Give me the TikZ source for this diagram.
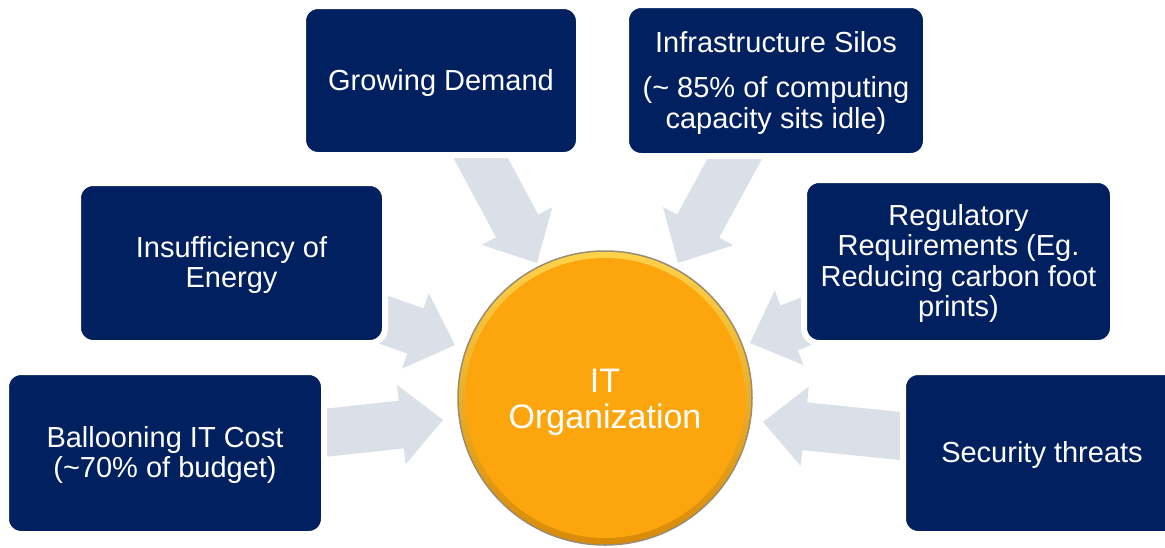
\documentclass[tikz,border=0pt]{standalone}
\usepackage{fontspec}
\setmainfont{Liberation Sans}
\usetikzlibrary{calc}
\definecolor{navy}{HTML}{002060}
\definecolor{arrowgray}{HTML}{DBE0E8}
\definecolor{orng}{HTML}{FDA50D}
\definecolor{rimtop}{HTML}{FFD24A}
\definecolor{rimbot}{HTML}{D88A06}
\definecolor{rimgray}{HTML}{9A8B73}
\newcommand{\blockarrow}[2]{%
  \coordinate (hb) at ($(#2)!42pt!(#1)$);
  \fill[arrowbody] ($(#1)!24pt!90:(#2)$) -- ($(hb)!24pt!90:(#2)$) -- ($(hb)!40pt!90:(#2)$)
     -- (#2) -- ($(hb)!40pt!-90:(#2)$) -- ($(hb)!24pt!-90:(#2)$) -- ($(#1)!24pt!-90:(#2)$) -- cycle;}
\begin{document}
\begin{tikzpicture}[x=1pt,y=-1pt,
  arrowbody/.style={fill=arrowgray},
  box/.style={fill=navy, draw=white, line width=6pt, rounded corners=15pt, inner sep=0pt},
  boxtext/.style={text=white, align=center, inner sep=0pt, yshift=-2pt,
    font=\fontsize{29pt}{30.5pt}\selectfont},
  orb/.style={circle, inner sep=0pt, minimum size=294pt, top color=rimtop, bottom color=rimbot,
    draw=rimgray, line width=1.5pt,
    path picture={\fill[orng] (path picture bounding box.center) circle (140pt);}},
  orbtext/.style={text=white, align=center, inner sep=0pt, yshift=-4pt,
    font=\fontsize{34pt}{36pt}\selectfont}]
\useasboundingbox (0,0) rectangle (1165,547);
\clip (0,0) rectangle (1165,547);
% arrow tails and tips
\coordinate (t1) at (471,140);  \coordinate (p1) at (537,263);
\coordinate (t2) at (745,140);  \coordinate (p2) at (678,263);
\coordinate (t3) at (362,312);  \coordinate (p3) at (455,345);
\coordinate (t4) at (843,307);  \coordinate (p4) at (750,343);
\coordinate (t5) at (296,436);  \coordinate (p5) at (443,420);
\coordinate (t6) at (930,439);  \coordinate (p6) at (763,422);
\blockarrow{t1}{p1}
\blockarrow{t2}{p2}
\blockarrow{t3}{p3}
\blockarrow{t4}{p4}
\blockarrow{t5}{p5}
\blockarrow{t6}{p6}
% boxes
\node[box, minimum width=276pt, minimum height=149pt,
  label={[boxtext, name=l1]center:Growing Demand}] (b1) at (441,80.5) {};
\node[box, minimum width=300pt, minimum height=151pt,
  label={[boxtext, name=l2]center:{Infrastructure Silos\\[15pt](\textasciitilde{} 85\% of computing\\capacity sits idle)}}] (b2) at (776,80.5) {};
\node[box, minimum width=307pt, minimum height=160pt,
  label={[boxtext, name=l3]center:{Insufficiency of\\Energy}}] (b3) at (231.5,263) {};
\node[box, minimum width=309pt, minimum height=163pt,
  label={[boxtext, name=l4]center:{Regulatory\\Requirements (Eg.\\Reducing carbon foot\\prints)}}] (b4) at (958.5,261.5) {};
\node[box, minimum width=318pt, minimum height=162pt,
  label={[boxtext, name=l5]center:{Ballooning IT Cost\\(\textasciitilde70\% of budget)}}] (b5) at (165,453) {};
\node[box, minimum width=278pt, minimum height=162pt,
  label={[boxtext, name=l6]center:Security threats}] (b6) at (1042,453) {};
% centre
\node[orb, label={[orbtext, name=lorg]center:{IT\\Organization}}] (org) at (605,398) {};
\end{tikzpicture}
\end{document}
